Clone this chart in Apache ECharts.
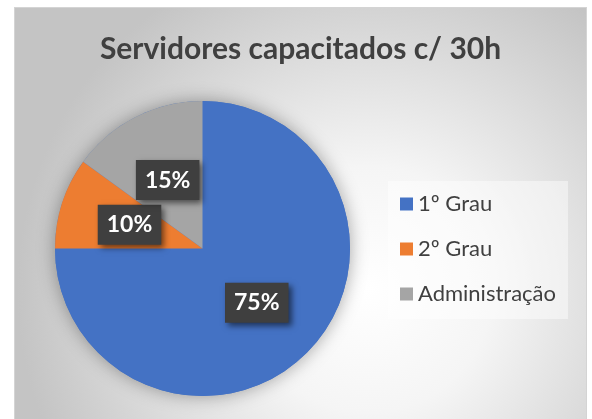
<!DOCTYPE html>
<html>
<head>
<meta charset="utf-8">
<script src="https://cdn.jsdelivr.net/npm/echarts@6/dist/echarts.min.js"></script>
<style>
  html, body { margin: 0; padding: 0; background: #fff; }
  #chart {
    position: absolute; left: 14px; top: 7px;
    width: 571px; height: 414px;
    border: 1px solid #d4d4d4;
  }
</style>
</head>
<body>
<div id="chart"></div>
<script>
// dados do gráfico
const categorias = ['1º Grau', '2º Grau', 'Administração'];
const valores = [75, 10, 15];
const cores = ['#4472C4', '#ED7D31', '#A5A5A5'];
const titulo = 'Servidores capacitados c/ 30h';

const chart = echarts.init(document.getElementById('chart'), null, { renderer: 'canvas' });
const fonte = 'Lato, "Open Sans", sans-serif';
const total = valores.reduce((a, b) => a + b, 0);

const option = {
  backgroundColor: {
    type: 'radial', x: 0.62, y: 0.68, r: 0.85,
    colorStops: [
      { offset: 0, color: '#ffffff' },
      { offset: 0.35, color: '#f5f5f5' },
      { offset: 1, color: '#c4c4c4' }
    ]
  },
  color: cores,
  title: {
    text: titulo, left: 'center', top: 21,
    textStyle: { fontFamily: fonte, fontSize: 30, fontWeight: 'bold', color: '#404040' }
  },
  legend: {
    orient: 'vertical', left: 373, top: 173,
    backgroundColor: 'rgba(255,255,255,0.45)',
    padding: [12, 12, 14, 12],
    itemWidth: 13, itemHeight: 13, itemGap: 23,
    icon: 'rect',
    data: categorias,
    textStyle: { fontFamily: fonte, fontSize: 22, color: '#404040', lineHeight: 22 }
  },
  series: [
    {
      // sombra do disco
      type: 'pie', silent: true, center: [187.5, 240.5], radius: 147.5,
      label: { show: false }, labelLine: { show: false },
      itemStyle: { color: '#4472C4', shadowBlur: 18, shadowColor: 'rgba(0,0,0,0.35)' },
      data: [{ value: total, name: '' }], legendHoverLink: false
    },
    {
      type: 'pie', center: [187.5, 240.5], radius: 147.5,
      startAngle: 90, clockwise: true,
      data: categorias.map((c, i) => ({ name: c, value: valores[i] })),
      itemStyle: { borderWidth: 0 },
      labelLine: { show: false },
      label: {
        show: true, position: 'inside',
        formatter: p => Math.round(p.percent) + '%',
        fontFamily: fonte, fontSize: 23, fontWeight: 'bold', color: '#fff',
        backgroundColor: '#3f3f3f', padding: [9, 9, 8, 9],
        shadowBlur: 6, shadowColor: 'rgba(0,0,0,0.55)', shadowOffsetX: 3, shadowOffsetY: 3
      }
    }
  ]
};
chart.setOption(option);
</script>
</body>
</html>
